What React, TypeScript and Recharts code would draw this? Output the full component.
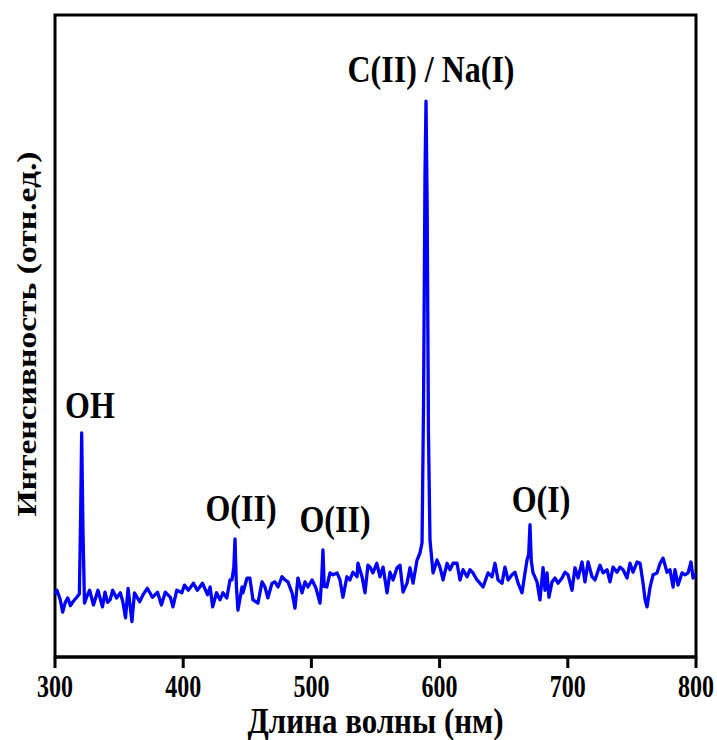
import React from 'react';
import { LineChart, Line, XAxis, YAxis, ReferenceArea, ReferenceDot } from 'recharts';

const wavelengths = [
  300, 301.5, 304, 306, 308, 310, 312, 314, 317, 319, 320, 320.8, 321.8, 323, 325, 327, 330, 333.5, 337, 339,
  341, 343, 345, 348, 351, 353, 355, 357, 360, 362, 366, 369, 372, 376, 380, 383, 386, 390, 392, 395,
  399, 401, 404, 408, 411, 413, 415, 419, 421, 423, 426, 428.7, 431, 434, 436.5, 438, 439.5, 440.4, 441.5, 442.7,
  445.9, 446.6, 449.8, 452, 454.4, 458.3, 461.5, 463.8, 466, 469.3, 471.6, 474, 477, 479.4, 481.7, 484.9, 487.2, 489.5, 492.7, 495,
  497.3, 500.5, 503.6, 506.7, 508, 509, 510, 512, 514.5, 516.8, 520, 522.3, 524.6, 527.7, 530, 532.4, 535.6, 536.3, 539.5, 541.8,
  544.1, 545.7, 548, 551, 553.5, 555.9, 559, 561.3, 563.7, 566.8, 569.1, 571.5, 574.6, 576.9, 579.3, 582.4, 584.7, 586.3, 587.5, 588.6,
  589.4, 590.3, 591.3, 592.5, 594.9, 598, 600.3, 602.7, 605.8, 608.1, 610.5, 613.6, 615.9, 618.3, 621.4, 623.7, 626, 629.2, 631.5, 633.9,
  637.8, 640.9, 643.2, 645.6, 648.7, 651, 653.4, 656.5, 658.8, 661.2, 664.3, 666.6, 668.2, 669.5, 670.5, 671.5, 672.9, 676, 678.3, 680.7,
  682.2, 683.8, 685.3, 687.7, 690, 692.4, 695.5, 697.8, 700.2, 703.3, 705.6, 708, 711.1, 713.4, 715.8, 718.9, 721.2, 725.1, 727.5, 730.6,
  732.9, 735.3, 738.4, 740.7, 743.1, 746.2, 748.5, 750.9, 754, 756.4, 758.7, 760.3, 761.8, 764.2, 766.5, 769.6, 772, 774.3, 777.4, 779.7,
  782.1, 783.6, 786, 789.1, 791.4, 793.8, 796.1, 797.7, 799.5,
];

const intensity = [
  9.8, 10.4, 9.0, 7.0, 8.5, 9.2, 8.0, 8.6, 9.3, 9.8, 22, 34.9, 20, 8.4, 9.5, 10.4, 8.1, 10.4, 7.8, 10.1,
  8.5, 8.9, 10.4, 9.2, 10.0, 8.5, 6.1, 10.7, 5.5, 10.0, 8.6, 9.8, 10.7, 9.3, 10.1, 8.1, 10.1, 9.3, 7.8, 10.4,
  10.0, 11.2, 10.4, 11.5, 10.4, 10.9, 11.5, 9.7, 10.9, 7.8, 10.0, 8.9, 10.0, 9.2, 12.0, 12.0, 14, 18.4, 11, 7.3,
  10.9, 10.0, 12.3, 12.3, 8.9, 8.4, 11.7, 10.9, 9.2, 11.5, 11.7, 10.9, 12.5, 12.0, 11.7, 10.0, 7.6, 12.3, 10.0, 11.7,
  10.9, 12.0, 10.7, 8.4, 12, 16.7, 11, 10.9, 13.1, 12.8, 13.1, 12.0, 9.3, 12.5, 12.0, 13.2, 12.5, 14.6, 12.5, 10.0,
  14.3, 14.0, 13.1, 14.6, 12.5, 14.0, 10.0, 13.2, 12.0, 13.9, 14.3, 10.1, 11.5, 13.9, 11.5, 15.1, 16.2, 17.8, 40, 75,
  86.6, 70, 35, 18.2, 13.1, 15.1, 14.0, 12.0, 14.6, 13.6, 14.6, 14.6, 12.0, 13.6, 12.5, 13.6, 13.1, 12.0, 11.5, 10.9,
  13.1, 12.5, 14.6, 12.0, 11.5, 14.0, 12.0, 12.8, 13.2, 11.5, 10.0, 13.1, 15.1, 16, 20.6, 15, 13.1, 11.7, 8.9, 13.9,
  10.4, 13.1, 9.3, 11.7, 12.3, 11.5, 12.3, 13.2, 12.8, 10.4, 13.9, 12.3, 14.8, 11.7, 14.8, 12.5, 12.0, 14.3, 13.1, 13.6,
  11.7, 14.0, 13.2, 14.0, 13.6, 12.3, 14.6, 13.2, 14.8, 14.6, 11.5, 8.9, 7.8, 10.9, 12.8, 13.1, 14.6, 15.4, 13.2, 13.6,
  10.9, 13.6, 11.2, 13.1, 12.8, 13.1, 14.8, 12.3, 13,
];

const xTicks = [300, 400, 500, 600, 700, 800];

const annotationLabels = ['OH', 'O(II)', 'O(II)', 'O(I)', 'C(II) / Na(I)'];
const annotationX = [327.3, 445.1, 518.4, 679.1, 593.3];
const annotationY = [37.2, 21.2, 19.5, 22.6, 89.6];

const xTitle = 'Длина волны (нм)';
const yTitle = 'Интенсивность (отн.ед.)';

const data = wavelengths.map((w, i) => ({ w, v: intensity[i] }));

const FONT = "'Liberation Serif', 'Times New Roman', serif";

const StretchText = ({ x, y, text, size, sy, rotate = 0 }: any) => (
  <text
    transform={`translate(${x},${y}) scale(1,${sy})${rotate ? ` rotate(${rotate})` : ''}`}
    textAnchor="middle"
    fontFamily={FONT}
    fontWeight="bold"
    fontSize={size}
    fill="#000"
  >
    {text}
  </text>
);

const XTick = (props: any) => {
  const { x, y, payload } = props;
  return <StretchText x={x} y={y + 27} text={String(payload.value)} size={24} sy={1.28} />;
};

const XTitle = (props: any) => {
  const vb = props.viewBox || {};
  return <StretchText x={vb.x + vb.width / 2} y={vb.y + vb.height - 7} text={xTitle} size={31} sy={1.18} />;
};

const YTitle = (props: any) => {
  const vb = props.viewBox || {};
  return <StretchText x={vb.x + 36} y={334} text={yTitle} size={28} sy={1.2} rotate={-90} />;
};

export default function App() {
  return (
    <div style={{ position: 'absolute', left: 0, top: 0, width: 717, height: 740, background: '#fff' }}>
      <LineChart width={717} height={740} data={data} margin={{ top: 15, right: 21, left: 0, bottom: 0 }}>
        <XAxis
          dataKey="w"
          type="number"
          domain={[300, 800]}
          ticks={xTicks}
          height={83}
          axisLine={{ stroke: '#000', strokeWidth: 3 }}
          tickLine={{ stroke: '#000', strokeWidth: 3 }}
          tickSize={11}
          tick={<XTick />}
          label={<XTitle />}
        />
        <YAxis
          type="number"
          domain={[0, 100]}
          width={55}
          tick={false}
          tickLine={false}
          axisLine={false}
          label={<YTitle />}
        />
        <ReferenceArea x1={300} x2={800} y1={0} y2={100} fill="none" stroke="#000" strokeWidth={3} />
        <Line
          type="linear"
          dataKey="v"
          stroke="#0000FF"
          strokeWidth={3.3}
          dot={false}
          strokeLinejoin="round"
          isAnimationActive={false}
        />
        {annotationLabels.map((t, i) => (
          <ReferenceDot
            key={i}
            x={annotationX[i]}
            y={annotationY[i]}
            r={0}
            shape={(p: any) => <StretchText x={p.cx} y={p.cy} text={t} size={32} sy={1.2} />}
          />
        ))}
      </LineChart>
    </div>
  );
}
